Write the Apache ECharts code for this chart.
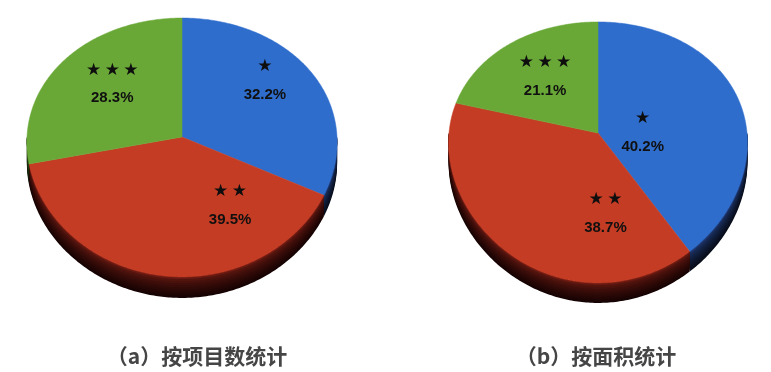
<!DOCTYPE html>
<html>
<head>
<meta charset="utf-8">
<script src="https://cdn.jsdelivr.net/npm/echarts@6/dist/echarts.min.js"></script>
<style>
  html, body { margin: 0; padding: 0; background: #ffffff; }
  #chart { width: 771px; height: 372px; }
</style>
</head>
<body>
<div id="chart"></div>
<script>
// Star ratings of the certified projects
const categories = ['★', '★★', '★★★'];
// (a) share by number of projects, %
const countShare = [32.2, 39.5, 28.3];
// (b) share by floor area, %
const areaShare = [40.2, 38.7, 21.1];
// Panel captions
const captions = ['（a）按项目数统计', '（b）按面积统计'];

// Colours: top faces and the darker rim (upper / lower edge)
const topColors = ['#2f6dcc', '#c53c24', '#69a836'];
const rimColors = [['#1f3870', '#080d1a'], ['#6a1a12', '#170303'], ['#35561b', '#0c1505']];

// Tilted pie geometry: centre, radii, perspective factors, rim depth,
// and label anchors given as fractions of the radii
const pies = [
  { values: countShare, cx: 182, cy: 137, rx: 155, ry: 128.6, kx: 0.04, ky: 0.081, depth: 21,
    labelAt: [[0.535, -0.435], [0.31, 0.537], [-0.45, -0.41]], caption: 0, capX: 197 },
  { values: areaShare, cx: 598, cy: 133, rx: 149, ry: 127.6, kx: 0.075, ky: 0.149, depth: 20,
    labelAt: [[0.30, -0.005], [0.05, 0.63], [-0.355, -0.44]], caption: 1, capX: 596 }
];

// Cumulative start/end angles (clockwise from 12 o'clock)
function sliceAngles(values) {
  const total = values.reduce((a, b) => a + b, 0);
  let acc = 0;
  return values.map(v => {
    const a0 = acc / total * Math.PI * 2;
    acc += v;
    return [a0, acc / total * Math.PI * 2];
  });
}

// Project a point of the unit disc onto the tilted, perspective ellipse
function project(p, u, v) {
  return [p.cx + p.rx * u / (1 - p.kx * v), p.cy + p.ry * v / (1 - p.ky * v)];
}

function arcPoints(p, a0, a1, dy) {
  const steps = Math.max(2, Math.ceil((a1 - a0) / (Math.PI / 240)));
  const pts = [];
  for (let i = 0; i <= steps; i++) {
    const t = a0 + (a1 - a0) * i / steps;
    const q = project(p, Math.sin(t), -Math.cos(t));
    pts.push([q[0], q[1] + dy]);
  }
  return pts;
}

const series = [];
pies.forEach((p) => {
  const angles = sliceAngles(p.values);

  // Visible rim (front half of the disc): nested strips, deepest and darkest first
  series.push({
    type: 'custom', coordinateSystem: 'none', z: 1, silent: true,
    data: p.values,
    renderItem: (params) => {
      const i = params.dataIndex;
      const lo = Math.max(angles[i][0], Math.PI / 2);
      const hi = Math.min(angles[i][1], Math.PI * 1.5);
      if (hi <= lo) return { type: 'group', children: [] };
      const bands = 10;
      const top = arcPoints(p, lo, hi, 0);
      const children = [];
      for (let b = bands; b >= 1; b--) {
        const d = p.depth * b / bands;
        const pts = top.concat(arcPoints(p, lo, hi, d).reverse());
        children.push({
          type: 'polygon',
          shape: { points: pts },
          style: { fill: echarts.color.lerp(Math.pow((b - 1) / (bands - 1), 0.6), rimColors[i]) }
        });
      }
      return { type: 'group', children };
    }
  });

  // Top faces
  series.push({
    type: 'custom', coordinateSystem: 'none', z: 2, silent: true,
    data: p.values,
    renderItem: (params) => {
      const i = params.dataIndex;
      const pts = [[p.cx, p.cy]].concat(arcPoints(p, angles[i][0], angles[i][1], 0));
      return {
        type: 'polygon',
        shape: { points: pts },
        style: { fill: topColors[i], stroke: topColors[i], lineWidth: 0.5 }
      };
    }
  });

  // Slice labels: star rating above the percentage
  series.push({
    type: 'custom', coordinateSystem: 'none', z: 3, silent: true,
    data: p.values,
    renderItem: (params) => {
      const i = params.dataIndex;
      const la = p.labelAt[i];
      return {
        type: 'text',
        x: p.cx + la[0] * p.rx,
        y: p.cy + la[1] * p.ry,
        style: {
          text: '{s|' + categories[i].split('').join('\u2009') + '}\n{p|' + p.values[i].toFixed(1) + '%}',
          align: 'center',
          verticalAlign: 'middle',
          rich: {
            s: { font: '17px "DejaVu Sans"', fill: '#0e0e0e', lineHeight: 28, align: 'center' },
            p: { font: 'bold 15px "Liberation Sans"', fill: '#101010', lineHeight: 28, align: 'center' }
          }
        }
      };
    }
  });
});

const chart = echarts.init(document.getElementById('chart'), null, { renderer: 'canvas' });
chart.setOption({
  backgroundColor: '#ffffff',
  animation: false,
  graphic: pies.map(p => ({
    type: 'text',
    x: p.capX,
    y: 356,
    style: {
      text: captions[p.caption],
      font: 'bold 21px "Noto Sans CJK SC"',
      fill: '#454545',
      align: 'center',
      verticalAlign: 'middle'
    }
  })),
  series
});
</script>
</body>
</html>
